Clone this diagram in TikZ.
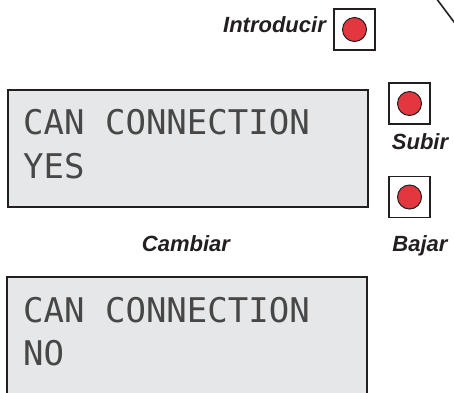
\documentclass[tikz,border=0pt]{standalone}
\usepackage{fontspec}
\setmainfont{Liberation Sans}
\newfontfamily\lcdfont{DejaVu Sans Mono}
\definecolor{ink}{HTML}{231F20}
\definecolor{lcdfill}{HTML}{E6E7E8}
\definecolor{btnred}{HTML}{E2373E}
\begin{document}
\begin{tikzpicture}[x=1pt,y=-1pt,
  lcdbox/.style={draw=ink,fill=lcdfill,line width=2pt,rectangle,inner sep=0pt},
  lcdtext/.style={inner sep=0pt,anchor=base west,text=black!72,font=\lcdfont\fontsize{34}{34}\selectfont},
  btnbox/.style={draw=ink,fill=white,line width=1.2pt,rectangle,minimum width=41pt,minimum height=41pt,inner sep=0pt},
  btndot/.style={draw=ink,fill=btnred,line width=1pt,circle,minimum size=24pt,inner sep=0pt},
  lbl/.style={inner sep=0pt,text=ink,font=\bfseries\itshape\fontsize{22}{22}\selectfont}]
\useasboundingbox (0,0) rectangle (454,392);
% LCD 1
\node[lcdbox,minimum width=360pt,minimum height=117pt] (lcd1) at (187.5,148) {};
\node[lcdtext] (l1a) at (23,134) {CAN CONNECTION};
\node[lcdtext] (l1b) at (23,178) {YES};
% LCD 2
\node[lcdbox,minimum width=360pt,minimum height=120pt] (lcd2) at (187,337) {};
\node[lcdtext] (l2a) at (23,322) {CAN CONNECTION};
\node[lcdtext] (l2b) at (23,365) {NO};
% buttons
\node[btnbox] (bIn) at (354.5,29.5) {};
\node[btndot] (dIn) at (bIn.center) {};
\node[btnbox] (bUp) at (409.5,103.5) {};
\node[btndot] (dUp) at (bUp.center) {};
\node[btnbox] (bDn) at (409.5,197) {};
\node[btndot] (dDn) at (bDn.center) {};
% labels
\node[lbl,anchor=base east] (tIn) at (326,32) {Introducir};
\node[lbl,anchor=base] (tUp) at (420,149) {Subir};
\node[lbl,anchor=base] (tDn) at (420,251) {Bajar};
\node[lbl,anchor=base] (tCh) at (186,251) {Cambiar};
% diagonal edge
\coordinate (d1) at (436,-2);
\coordinate (d2) at (457,26);
\draw[ink,line width=1.6pt] (d1) -- (d2);
\end{tikzpicture}
\end{document}
